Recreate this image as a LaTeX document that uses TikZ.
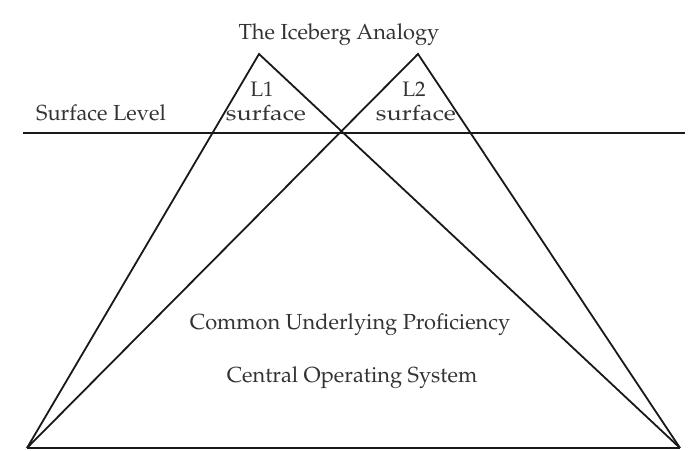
\documentclass[tikz,border=0pt]{standalone}
\usepackage[T1]{fontenc}
\usepackage{mathpazo}
\usepackage{graphicx}
\newcommand{\widetext}[1]{\scalebox{1.2}[1]{#1}}
\begin{document}
\begin{tikzpicture}[x=1pt,y=-1pt,
  edge/.style={line width=1.8pt, black!90},
  label/.style={inner sep=0pt, font=\fontsize{21.8}{26}\selectfont, text=black!80},
  tag/.style={inner sep=0pt, font=\fontsize{21}{24}\selectfont, text=black!80}]
  \useasboundingbox[fill=white] (0,0) rectangle (699,450);

  % corner points of the two icebergs
  \coordinate (apexA) at (259,54);
  \coordinate (apexB) at (418,54);
  \coordinate (baseL) at (27,448);
  \coordinate (baseR) at (680,448);
  \coordinate (surfL) at (23,133);
  \coordinate (surfR) at (685,133);

  % waterline
  \draw[edge] (surfL) -- (surfR);
  % the two icebergs sharing one base
  \draw[edge] (baseL) -- (apexA) -- (baseR);
  \draw[edge] (baseL) -- (apexB) -- (baseR);
  \draw[edge] (baseL) -- (baseR);

  % labels
  \node[label] (title) at (339,35) {The Iceberg Analogy};
  \node[label] (level) at (101,113) {Surface Level};
  \node[tag] (lone) at (262,89) {L1};
  \node[tag] (sone) at (266,113) {\widetext{surface}};
  \node[tag] (ltwo) at (414,89) {L2};
  \node[tag] (stwo) at (416,113) {\widetext{surface}};
  \node[label] (cup) at (350,325) {Common Underlying Proficiency};
  \node[label] (cos) at (352,378) {Central Operating System};
\end{tikzpicture}
\end{document}
